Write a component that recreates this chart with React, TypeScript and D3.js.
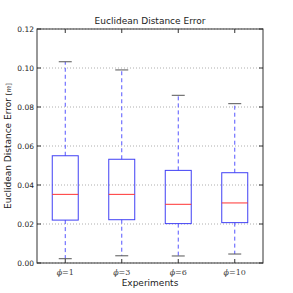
import React from 'react';
import * as d3 from 'd3';

const categories = ['1', '3', '6', '10'];
const whiskerHigh = [0.1032, 0.099, 0.086, 0.0817];
const q3 = [0.055, 0.0532, 0.0475, 0.0463];
const medians = [0.0352, 0.0352, 0.0301, 0.0308];
const q1 = [0.022, 0.0222, 0.0202, 0.0207];
const whiskerLow = [0.0022, 0.0037, 0.0036, 0.0046];
const yTicks = [0, 0.02, 0.04, 0.06, 0.08, 0.1, 0.12];

export default function App(): JSX.Element {
  const W = 293;
  const H = 293;
  const margin = { top: 29, right: 30, bottom: 30, left: 37 };
  const innerW = W - margin.left - margin.right;

  const x = d3.scaleLinear().domain([0.5, 4.5]).range([margin.left, W - margin.right]);
  const y = d3.scaleLinear().domain([0, 0.12]).range([H - margin.bottom, margin.top]);
  const step = x(2) - x(1);
  const boxW = step * 0.46;
  const capW = boxW / 2;
  const font = 'DejaVu Sans, sans-serif';

  return (
    <svg
      width={W}
      height={H}
      style={{ position: 'absolute', left: 0, top: 0, background: 'white' }}
    >
      {/* grid */}
      {yTicks.map((t) => (
        <line
          key={'g' + t}
          x1={margin.left}
          x2={W - margin.right}
          y1={y(t)}
          y2={y(t)}
          stroke="#999"
          strokeWidth={0.8}
          strokeDasharray="1,2"
        />
      ))}

      {/* boxes */}
      {categories.map((c, i) => {
        const cx = x(i + 1);
        return (
          <g key={c}>
            <line x1={cx} x2={cx} y1={y(q3[i])} y2={y(whiskerHigh[i])} stroke="#5555ff" strokeWidth={1} strokeDasharray="4,3" />
            <line x1={cx} x2={cx} y1={y(q1[i])} y2={y(whiskerLow[i])} stroke="#5555ff" strokeWidth={1} strokeDasharray="4,3" />
            <line x1={cx - capW / 2} x2={cx + capW / 2} y1={y(whiskerHigh[i])} y2={y(whiskerHigh[i])} stroke="#555" strokeWidth={1} />
            <line x1={cx - capW / 2} x2={cx + capW / 2} y1={y(whiskerLow[i])} y2={y(whiskerLow[i])} stroke="#555" strokeWidth={1} />
            <rect
              x={cx - boxW / 2}
              y={y(q3[i])}
              width={boxW}
              height={y(q1[i]) - y(q3[i])}
              fill="none"
              stroke="#4040f5"
              strokeWidth={1}
            />
            <line x1={cx - boxW / 2} x2={cx + boxW / 2} y1={y(medians[i])} y2={y(medians[i])} stroke="#ff3333" strokeWidth={1} />
          </g>
        );
      })}

      {/* frame */}
      <rect
        x={margin.left}
        y={margin.top}
        width={innerW}
        height={y(0) - y(0.12)}
        fill="none"
        stroke="#333"
        strokeWidth={1}
      />

      {/* y ticks */}
      {yTicks.map((t) => (
        <g key={'t' + t}>
          <line x1={margin.left} x2={margin.left + 4} y1={y(t)} y2={y(t)} stroke="#333" />
          <line x1={W - margin.right} x2={W - margin.right - 4} y1={y(t)} y2={y(t)} stroke="#333" />
          <text
            x={margin.left - 3}
            y={y(t)}
            textAnchor="end"
            dominantBaseline="central"
            fontFamily={font}
            fontSize={7.5}
            fill="#222"
          >
            {d3.format('.2f')(t)}
          </text>
        </g>
      ))}

      {/* x ticks */}
      {categories.map((c, i) => (
        <g key={'x' + c}>
          <line x1={x(i + 1)} x2={x(i + 1)} y1={y(0)} y2={y(0) - 4} stroke="#333" />
          <line x1={x(i + 1)} x2={x(i + 1)} y1={margin.top} y2={margin.top + 4} stroke="#333" />
          <text
            x={x(i + 1)}
            y={y(0) + 12}
            textAnchor="middle"
            fontFamily="DejaVu Serif, serif"
            fontSize={8}
            fill="#444"
          >
            <tspan fontStyle="italic">ϕ</tspan>
            {'=' + c}
          </text>
        </g>
      ))}

      {/* title & labels */}
      <text x={(margin.left + W - margin.right) / 2} y={margin.top - 5} textAnchor="middle" fontFamily={font} fontSize={9} fill="#222">
        Euclidean Distance Error
      </text>
      <text x={(margin.left + W - margin.right) / 2} y={H - 7} textAnchor="middle" fontFamily={font} fontSize={9} fill="#222">
        Experiments
      </text>
      <text
        transform={`translate(11,${(margin.top + y(0)) / 2}) rotate(-90)`}
        textAnchor="middle"
        fontFamily={font}
        fontSize={9}
        fill="#222"
      >
        Euclidean Distance Error{' '}
        <tspan fontFamily="DejaVu Serif, serif" fontSize={7}>
          [<tspan fontStyle="italic">m</tspan>]
        </tspan>
      </text>
    </svg>
  );
}
